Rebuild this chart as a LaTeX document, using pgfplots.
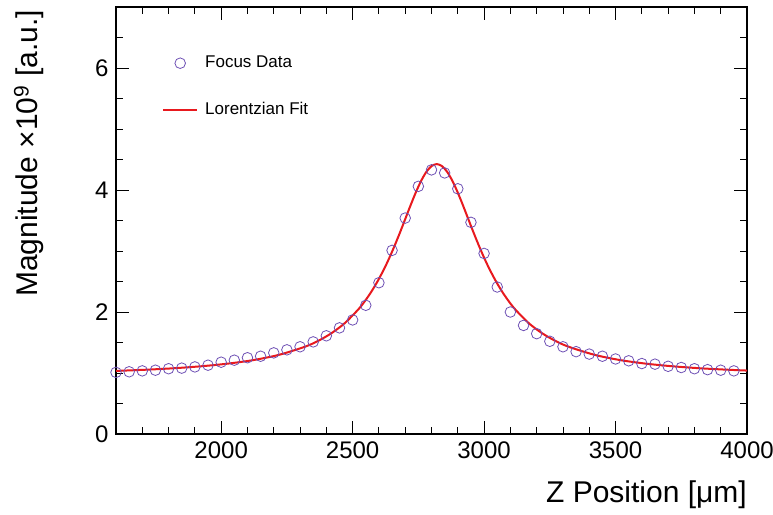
\documentclass[border=0pt]{standalone}
\usepackage{pgfplots}
\pgfplotsset{compat=1.18}
\usepackage{fontspec}
\setmainfont{Liberation Sans}
\definecolor{datacol}{RGB}{110,80,180}
\definecolor{fitcol}{RGB}{232,25,30}
\pgfplotsset{
  markleg/.style={legend image code/.code={\draw[##1] plot[mark repeat=2, mark phase=2] coordinates {(0pt,0pt) (17pt,0pt) (34pt,0pt)};}},
  lineleg/.style={legend image code/.code={\draw[##1] (0pt,0pt) -- (34pt,0pt);}},
}
\begin{document}
\begin{tikzpicture}[x=1pt,y=1pt]
\path[use as bounding box] (-116,-80) rectangle (657,434);
\begin{axis}[
  at={(0,0)}, anchor=south west,
  scale only axis, width=631pt, height=427pt,
  xmin=1600, xmax=4000, ymin=0, ymax=7,
  xtick={2000,2500,3000,3500,4000},
  minor xtick={1700,1800,1900,2100,2200,2300,2400,2600,2700,2800,2900,3100,3200,3300,3400,3600,3700,3800,3900},
  ytick={0,2,4,6},
  minor ytick={0.5,1,1.5,2.5,3,3.5,4.5,5,5.5,6.5},
  tick align=inside,
  major tick length=13pt, minor tick length=7pt,
  tick style={black, line width=0.9pt},
  axis line style={black, line width=1.2pt},
  /pgf/number format/assume math mode=true,
  /pgf/number format/set thousands separator={},
  ticklabel style={font=\fontsize{24}{28}\selectfont},
  xticklabel style={yshift=-4pt},
  yticklabel style={xshift=-4pt},
  xlabel={Z Position [μm]},
  ylabel={Magnitude ×10\textsuperscript{9} [a.u.]},
  xlabel style={at={(rel axis cs:1,0)}, anchor=north east, yshift=-47pt, inner sep=0pt, font=\fontsize{30}{34}\selectfont},
  ylabel style={at={(rel axis cs:0,1)}, anchor=east, yshift=87pt, xshift=-3pt, inner sep=0pt, font=\fontsize{30}{34}\selectfont},
  legend style={at={(rel axis cs:0.0729,0.8876)}, anchor=north west, draw=none, fill=none, inner sep=0pt,
    font=\fontsize{17}{20}\selectfont, row sep=31pt, column sep=7pt,
    nodes={inner sep=0pt, text height=12pt, text depth=4pt}},
  legend cell align=left,
  clip=false,
]
\addplot[only marks, mark=o, mark size=5.3pt, color=datacol, mark options={line width=0.8pt}, markleg]
coordinates {
(1600,1.01) (1650,1.02) (1700,1.035) (1750,1.046) (1800,1.07) (1850,1.08)
(1900,1.10) (1950,1.128) (2000,1.177) (2050,1.21) (2100,1.25) (2150,1.275)
(2200,1.33) (2250,1.38) (2300,1.43) (2350,1.51) (2400,1.61) (2450,1.74)
(2500,1.87) (2550,2.11) (2600,2.48) (2650,3.01) (2700,3.54) (2750,4.06)
(2800,4.33) (2850,4.28) (2900,4.02) (2950,3.47) (3000,2.96) (3050,2.41)
(3100,2.00) (3150,1.78) (3200,1.645) (3250,1.52) (3300,1.43) (3350,1.35)
(3400,1.31) (3450,1.275) (3500,1.23) (3550,1.20) (3600,1.155) (3650,1.145)
(3700,1.11) (3750,1.09) (3800,1.07) (3850,1.055) (3900,1.046) (3950,1.035)
};
\addlegendentry{Focus Data}
\addplot[color=fitcol, line width=2pt, smooth, lineleg]
coordinates {
(1600,1.034) (1720,1.055) (1820,1.078) (1920,1.109) (2020,1.151) (2120,1.210)
(2220,1.298) (2320,1.433) (2370,1.529) (2420,1.654) (2470,1.817) (2520,2.035)
(2545,2.169) (2570,2.325) (2595,2.504) (2620,2.708) (2640,2.891) (2660,3.090)
(2680,3.302) (2700,3.523) (2720,3.745) (2740,3.957) (2760,4.145) (2780,4.295)
(2800,4.391) (2820,4.425) (2840,4.391) (2860,4.295) (2880,4.145) (2900,3.957)
(2920,3.745) (2940,3.523) (2960,3.302) (2980,3.090) (3000,2.891) (3020,2.708)
(3045,2.504) (3070,2.325) (3095,2.169) (3120,2.035) (3170,1.817) (3220,1.654)
(3270,1.529) (3320,1.433) (3420,1.298) (3520,1.210) (3620,1.151) (3720,1.109)
(3820,1.078) (3920,1.055) (4000,1.040)
};
\addlegendentry{Lorentzian Fit}
\end{axis}
\end{tikzpicture}
\end{document}
